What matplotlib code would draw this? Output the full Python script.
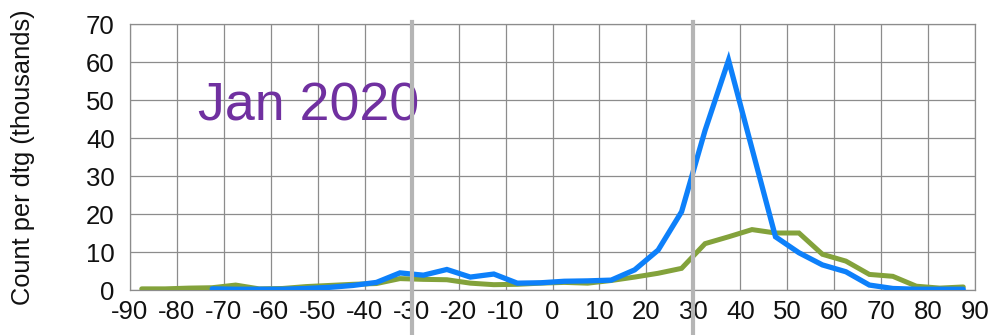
import matplotlib
matplotlib.use("Agg")
import matplotlib.pyplot as plt
from matplotlib.transforms import blended_transform_factory

# Latitude bin centres (degrees) and counts per dtg (thousands)
lat_green = [-87.5, -82.5, -77.5, -72.5, -67.5, -62.5, -57.5, -52.5, -47.5, -42.5,
             -37.5, -32.5, -27.5, -22.5, -17.5, -12.5, -7.5, -2.5, 2.5, 7.5,
             12.5, 17.5, 22.5, 27.5, 32.5, 37.5, 42.5, 47.5, 52.5, 57.5,
             62.5, 67.5, 72.5, 77.5, 82.5, 87.5]
count_green = [0.3, 0.3, 0.5, 0.6, 1.3, 0.3, 0.4, 0.9, 1.2, 1.5,
               1.7, 3.0, 2.8, 2.7, 1.8, 1.4, 1.5, 1.8, 2.0, 1.8,
               2.5, 3.4, 4.4, 5.7, 12.2, 14.0, 15.9, 15.0, 15.0, 9.4,
               7.6, 4.1, 3.6, 1.0, 0.5, 0.8]

lat_blue = [-72.5, -67.5, -62.5, -57.5, -52.5, -47.5, -42.5, -37.5, -32.5, -27.5,
            -22.5, -17.5, -12.5, -7.5, -2.5, 2.5, 7.5, 12.5, 17.5, 22.5,
            27.5, 32.5, 37.5, 42.5, 47.5, 52.5, 57.5, 62.5, 67.5, 72.5,
            77.5, 82.5, 87.5]
count_blue = [0.3, 0.2, 0.2, 0.2, 0.4, 0.7, 1.2, 2.0, 4.5, 3.9,
              5.4, 3.4, 4.2, 1.8, 1.9, 2.3, 2.4, 2.6, 5.3, 10.5,
              20.6, 42.0, 60.5, 37.2, 14.0, 9.8, 6.6, 4.8, 1.3, 0.4,
              0.2, 0.2, 0.2]

xticks = list(range(-90, 91, 10))
yticks = list(range(0, 71, 10))
divider_lats = [-30, 30]

plt.rcParams['font.family'] = ['Liberation Sans', 'DejaVu Sans']
plt.rcParams['axes.unicode_minus'] = False

fig = plt.figure(figsize=(9.91, 3.35), dpi=100)
ax = fig.add_axes([130 / 991, 45 / 335, 845 / 991, 266 / 335])

ax.plot(lat_green, count_green, color='#83a23b', lw=3.6, solid_capstyle='round',
        solid_joinstyle='miter', zorder=3)
ax.plot(lat_blue, count_blue, color='#0d80fa', lw=3.8, solid_capstyle='round',
        solid_joinstyle='miter', zorder=4)

ax.set_xlim(-90, 90)
ax.set_ylim(0, 70)
ax.set_xticks(xticks)
ax.set_yticks(yticks)
ax.tick_params(axis='both', length=0, labelsize=18.5, colors='#111111')
ax.tick_params(axis='y', pad=11)
ax.tick_params(axis='x', pad=7)
ax.grid(True, color='#8c8c8c', lw=0.9)
ax.set_axisbelow(True)
for s in ax.spines.values():
    s.set_color('#8c8c8c')
    s.set_linewidth(0.9)

ax.set_ylabel('Count per dtg (thousands)', fontsize=18.3, color='#111111')
ax.yaxis.set_label_coords(-0.112, 0.498)

ax.text(-75.6, 44.5, 'Jan 2020', color='#7030a0', fontsize=38.7, ha='left',
        va='baseline', zorder=5)

# Divider lines spanning from above the plot to the bottom edge of the figure
tr = blended_transform_factory(ax.transData, fig.transFigure)
for lat in divider_lats:
    ax.plot([lat, lat], [0, 1 - 22 / 335], color='#b5b5b5', lw=3.0,
            transform=tr, clip_on=False, zorder=10)

fig.savefig('out.png', dpi=100)
